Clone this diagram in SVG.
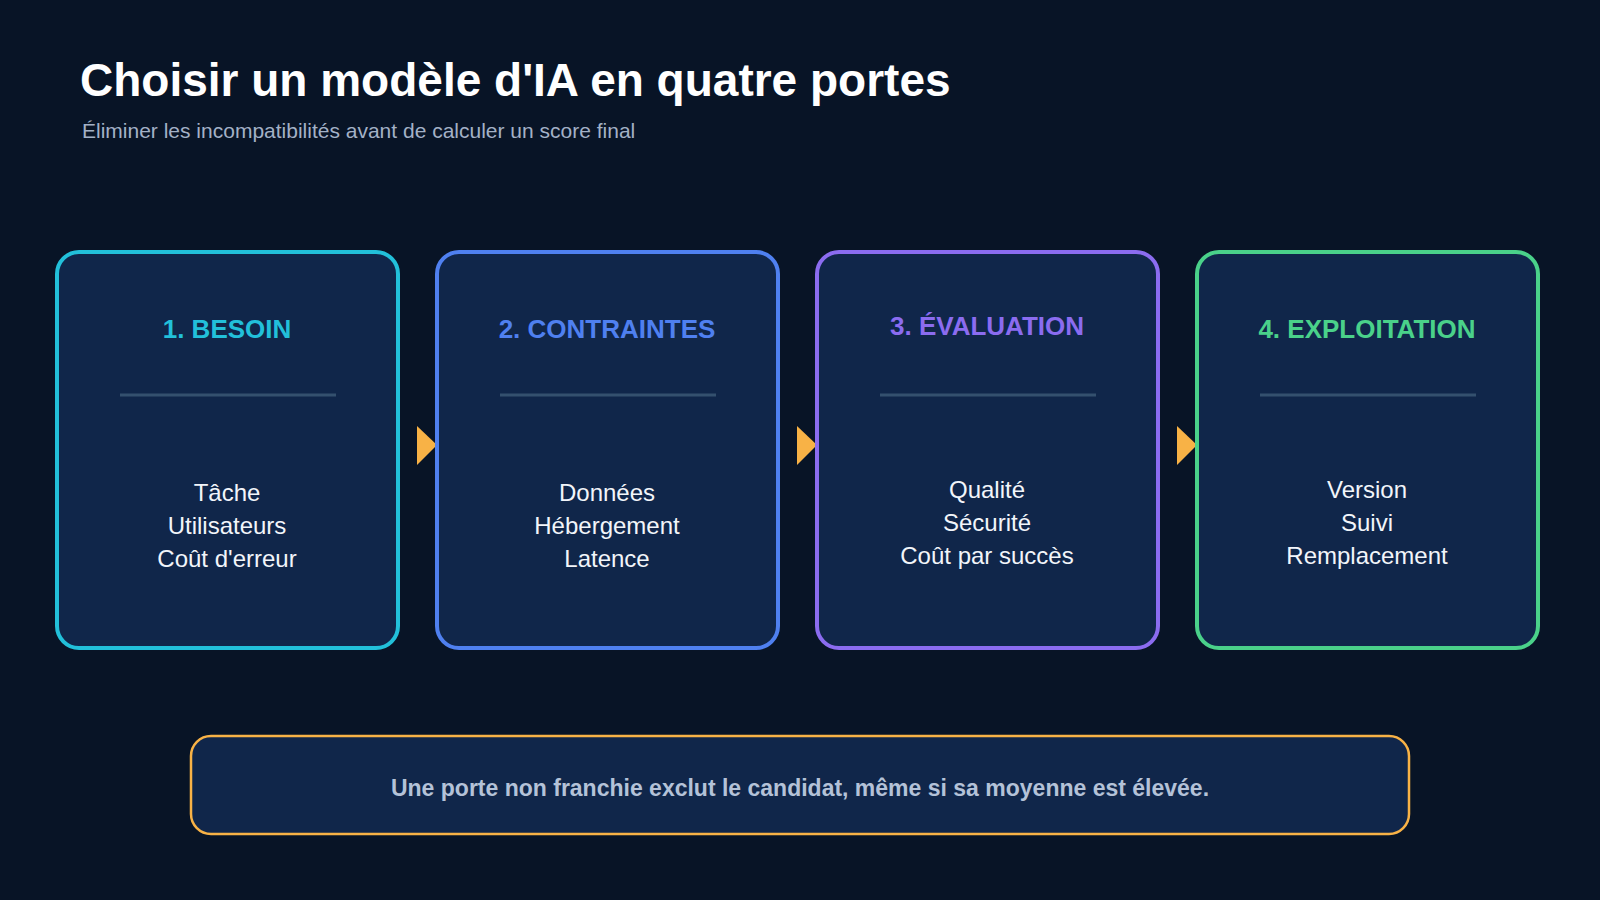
<svg xmlns="http://www.w3.org/2000/svg" width="1600" height="900" viewBox="0 0 1600 900">
<style>
text{font-family:"Liberation Sans",Arial,sans-serif}
.box{fill:#10264a;stroke-width:4}
.ttl{font-size:26px;font-weight:bold;text-anchor:middle}
.body{font-size:24px;fill:#f2f5fa;text-anchor:middle}
.div{stroke:#34506e;stroke-width:3}
.arr{fill:#f8b246}
</style>
<rect width="1600" height="900" fill="#081426"/>
<text x="80" y="96" font-size="46" font-weight="bold" fill="#ffffff">Choisir un modèle d'IA en quatre portes</text>
<text x="82" y="138" font-size="21" fill="#a3b1c6">Éliminer les incompatibilités avant de calculer un score final</text>
<g id="connectors">
<polygon class="arr" points="417,426 437,445 417,465"/>
<polygon class="arr" points="797,426 817,445 797,465"/>
<polygon class="arr" points="1177,426 1197,445 1177,465"/>
</g>
<g id="n1">
<rect class="box" x="57" y="252" width="341" height="396" rx="22" stroke="#22c0da"/>
<text class="ttl" x="227" y="338" fill="#22c0da">1. BESOIN</text>
<line class="div" x1="120" y1="395" x2="336" y2="395"/>
<text class="body" x="227" y="501">Tâche</text>
<text class="body" x="227" y="534">Utilisateurs</text>
<text class="body" x="227" y="567">Coût d'erreur</text>
</g>
<g id="n2">
<rect class="box" x="437" y="252" width="341" height="396" rx="22" stroke="#4f80f0"/>
<text class="ttl" x="607" y="338" fill="#4f80f0">2. CONTRAINTES</text>
<line class="div" x1="500" y1="395" x2="716" y2="395"/>
<text class="body" x="607" y="501">Données</text>
<text class="body" x="607" y="534">Hébergement</text>
<text class="body" x="607" y="567">Latence</text>
</g>
<g id="n3">
<rect class="box" x="817" y="252" width="341" height="396" rx="22" stroke="#8b6cf0"/>
<text class="ttl" x="987" y="335" fill="#8b6cf0">3. ÉVALUATION</text>
<line class="div" x1="880" y1="395" x2="1096" y2="395"/>
<text class="body" x="987" y="498">Qualité</text>
<text class="body" x="987" y="531">Sécurité</text>
<text class="body" x="987" y="564">Coût par succès</text>
</g>
<g id="n4">
<rect class="box" x="1197" y="252" width="341" height="396" rx="22" stroke="#4ad18a"/>
<text class="ttl" x="1367" y="338" fill="#4ad18a">4. EXPLOITATION</text>
<line class="div" x1="1260" y1="395" x2="1476" y2="395"/>
<text class="body" x="1367" y="498">Version</text>
<text class="body" x="1367" y="531">Suivi</text>
<text class="body" x="1367" y="564">Remplacement</text>
</g>
<g id="note">
<rect x="191" y="736" width="1218" height="98" rx="20" fill="#10264a" stroke="#f8b246" stroke-width="2.5"/>
<text x="800" y="796" font-size="23" font-weight="bold" fill="#b4c2d8" text-anchor="middle">Une porte non franchie exclut le candidat, même si sa moyenne est élevée.</text>
</g>
</svg>
